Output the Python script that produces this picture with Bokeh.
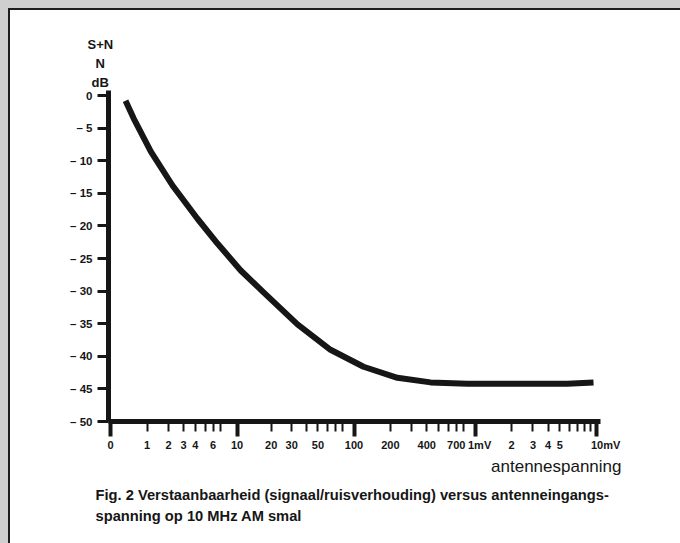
from bokeh.plotting import figure
from bokeh.models import FixedTicker, LogAxis, Range1d, Title
from bokeh.embed import file_html
from bokeh.resources import INLINE

# ---- data (antenna voltage in microvolt, (S+N)/N in dB) ----
volts_uv = [0.33, 0.55, 1.15, 2.24, 4.2, 6.6, 10.75, 17.2, 33.6, 63.7, 120,
            229, 430, 867, 1620, 3030, 5770, 9450]
snr_db = [-0.8, -3.5, -8.6, -13.8, -18.9, -22.7, -26.8, -30.2, -35.1, -39.0,
          -41.6, -43.3, -44.0, -44.2, -44.2, -44.2, -44.2, -44.0]

# axis scale: position ~ log10(V + 1 uV)
x_major_uv = [0, 10, 100, 1000, 10000]
x_minor_uv = [1, 2, 3, 4, 5, 6, 7, 20, 30, 40, 50, 60, 70, 80,
              200, 300, 400, 500, 600, 700, 800,
              2000, 3000, 4000, 5000, 6000, 7000, 8000, 9000]
x_label_uv = [0, 1, 2, 3, 4, 6, 10, 20, 30, 50, 100, 200, 400, 700, 1000,
              2000, 3000, 4000, 5000, 10000]
NB = "\u00a0"
x_label_txt = ["0", "1", "2", "3", "4", "6", "10", "20", "30", "50", "100",
               "200", "400", "700", NB * 3 + "1mV", "2", "3", "4", "5", NB * 6 + "10mV"]
y_ticks = [0, -5, -10, -15, -20, -25, -30, -35, -40, -45, -50]
y_tick_txt = ["0", "– 5", "– 10", "– 15", "– 20", "– 25", "– 30", "– 35",
              "– 40", "– 45", "– 50"]

OFFSET = 1.0  # uV added so that 0 can sit on the log scale
xs = [v + OFFSET for v in volts_uv]

INK = "#161616"
FONT = "Liberation Sans"

p = figure(x_axis_type="log",
           x_range=Range1d(0.963, 10790), y_range=Range1d(-50, 0.77),
           frame_width=492, frame_height=331,
           min_border_left=108, min_border_right=80,
           min_border_top=90, min_border_bottom=122,
           output_backend="svg", toolbar_location=None)
p.title.visible = False
p.border_fill_color = None
p.background_fill_color = "white"
p.outline_line_color = None
p.xgrid.visible = False
p.ygrid.visible = False
p.styles = {"background-color": "white",
            "box-shadow": "inset 8px 8px 0 #cfcfcf, inset 10px 10px 0 #1e1e1e"}

# ---- axis A: line + tick marks ----
ax = p.xaxis[0]
ax.ticker = FixedTicker(ticks=[v + OFFSET for v in x_major_uv],
                        minor_ticks=[v + OFFSET for v in x_minor_uv])
ax.axis_line_width = 5
ax.axis_line_color = INK
ax.major_tick_in = 0
ax.major_tick_out = 15
ax.major_tick_line_width = 4
ax.major_tick_line_color = INK
ax.minor_tick_in = 0
ax.minor_tick_out = 10
ax.minor_tick_line_width = 2
ax.minor_tick_line_color = INK
ax.major_label_overrides = {v + OFFSET: "" for v in x_major_uv}
ax.major_label_text_font_size = "1px"
ax.major_label_standoff = 0

# ---- axis B: tick labels only ----
bx = LogAxis(ticker=FixedTicker(ticks=[v + OFFSET for v in x_label_uv], minor_ticks=[]))
bx.major_label_overrides = {v + OFFSET: t for v, t in zip(x_label_uv, x_label_txt)}
bx.axis_line_color = None
bx.major_tick_line_color = None
bx.minor_tick_line_color = None
bx.major_tick_in = 0
bx.major_tick_out = 0
bx.major_label_standoff = 2
bx.major_label_text_font = FONT
bx.major_label_text_font_style = "bold"
bx.major_label_text_font_size = "11px"
bx.major_label_text_color = INK
p.add_layout(bx, "below")

# ---- y axis ----
ay = p.yaxis[0]
ay.ticker = FixedTicker(ticks=y_ticks, minor_ticks=[])
ay.major_label_overrides = dict(zip(y_ticks, y_tick_txt))
ay.axis_line_width = 5
ay.axis_line_color = INK
ay.major_tick_in = 0
ay.major_tick_out = 11
ay.major_tick_line_width = 3
ay.major_tick_line_color = INK
ay.minor_tick_line_color = None
ay.major_label_standoff = 5
ay.major_label_text_font = FONT
ay.major_label_text_font_style = "bold"
ay.major_label_text_font_size = "11.5px"
ay.major_label_text_color = INK

# ---- curve ----
p.line(xs, snr_db, line_width=6, line_color=INK, line_cap="butt", line_join="round")

# ---- texts as titles ----
def add_title(txt, side, size, offset, standoff, bold=True, align="left"):
    p.add_layout(Title(text=txt, align=align, offset=offset, standoff=standoff,
                       text_font=FONT, text_font_size=size,
                       text_font_style="bold" if bold else "normal",
                       text_color=INK), side)

# above (first added sits closest to the frame)
add_title("dB", "above", "13px", -17, 2)
add_title("N", "above", "13px", -13, 2)
add_title("S+N", "above", "13px", -21, 2)

# below, after the axes
add_title("antennespanning", "below", "17px", -21, 2, bold=False, align="right")
add_title("Fig. 2 Verstaanbaarheid (signaal/ruisverhouding) versus antenneingangs-",
          "below", "14.7px", -13, 17)
add_title("spanning op 10 MHz AM smal", "below", "14.7px", -13, -11)

open("out.html", "w").write(file_html(p, INLINE))
